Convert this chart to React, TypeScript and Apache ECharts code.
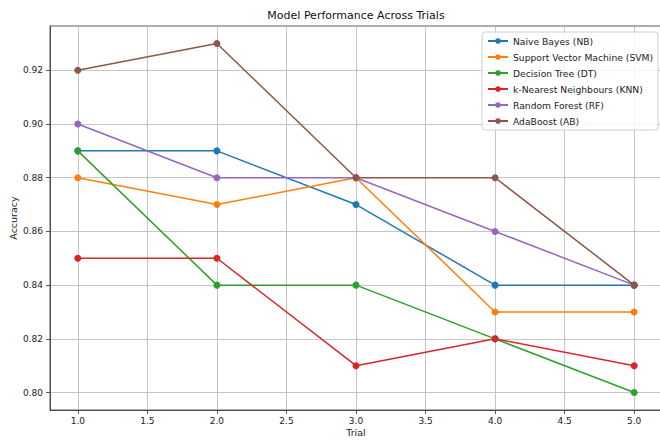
import React, { useEffect, useRef } from "react";
import * as echarts from "echarts";

const trials = [1, 2, 3, 4, 5];
const naiveBayes = [0.89, 0.89, 0.87, 0.84, 0.84];
const svm = [0.88, 0.87, 0.88, 0.83, 0.83];
const decisionTree = [0.89, 0.84, 0.84, 0.82, 0.8];
const knn = [0.85, 0.85, 0.81, 0.82, 0.81];
const randomForest = [0.9, 0.88, 0.88, 0.86, 0.84];
const adaBoost = [0.92, 0.93, 0.88, 0.88, 0.84];

const seriesNames = [
  "Naive Bayes (NB)",
  "Support Vector Machine (SVM)",
  "Decision Tree (DT)",
  "k-Nearest Neighbours (KNN)",
  "Random Forest (RF)",
  "AdaBoost (AB)",
];
const seriesValues = [naiveBayes, svm, decisionTree, knn, randomForest, adaBoost];
const colors = ["#1f77b4", "#ff7f0e", "#2ca02c", "#d62728", "#9467bd", "#8c564b"];

const xTicks = [1.0, 1.5, 2.0, 2.5, 3.0, 3.5, 4.0, 4.5, 5.0];
const yTicks = [0.8, 0.82, 0.84, 0.86, 0.88, 0.9, 0.92];

const FONT = "DejaVu Sans";

export default function App() {
  const ref = useRef<HTMLDivElement>(null);
  useEffect(() => {
    if (!ref.current) return;
    const chart = echarts.init(ref.current, null, { renderer: "svg" });
    chart.setOption({
      animation: false,
      backgroundColor: "#ffffff",
      textStyle: { fontFamily: FONT },
      graphic: [
        {
          type: "text",
          x: 356,
          y: 15,
          style: {
            text: "Model Performance Across Trials",
            textAlign: "center",
            textVerticalAlign: "middle",
            fontFamily: FONT,
            fontSize: 11,
            fill: "#111",
          },
        },
      ],
      grid: {
        left: 50,
        top: 26,
        width: 612,
        height: 384,
        outerBoundsMode: "none",
        containLabel: false,
        show: true,
        borderColor: "#333",
        borderWidth: 0.8,
        backgroundColor: "transparent",
      },
      legend: {
        left: 482,
        top: 32,
        orient: "vertical",
        padding: [3, 5, 3, 5],
        itemWidth: 20,
        itemHeight: 7,
        itemGap: 4,
        backgroundColor: "rgba(255,255,255,0.85)",
        borderColor: "#d0d0d0",
        borderWidth: 1,
        borderRadius: 3,
        textStyle: { fontFamily: FONT, fontSize: 9.2, color: "#222", lineHeight: 12 },
        data: seriesNames,
      },
      xAxis: {
        type: "value",
        min: 0.8,
        max: 5.2,
        name: "Trial",
        nameLocation: "middle",
        nameGap: 17,
        nameMoveOverlap: false,
        nameTextStyle: { fontFamily: FONT, fontSize: 9.5, color: "#222" },
        axisLine: { show: true, lineStyle: { color: "#333", width: 0.8 } },
        axisTick: {
          show: true,
          length: 4,
          customValues: xTicks,
          lineStyle: { color: "#333", width: 0.8 },
        },
        axisLabel: {
          customValues: xTicks,
          margin: 6,
          fontFamily: FONT,
          fontSize: 9,
          color: "#222",
          formatter: (v: number) => v.toFixed(1),
        },
        splitLine: { show: true, lineStyle: { color: "#b8b8b8", width: 0.8 } },
      },
      yAxis: {
        type: "value",
        min: 0.7935,
        max: 0.9365,
        name: "Accuracy",
        nameLocation: "middle",
        nameGap: 32,
        nameMoveOverlap: false,
        nameTextStyle: { fontFamily: FONT, fontSize: 9.5, color: "#222" },
        axisLine: { show: true, lineStyle: { color: "#333", width: 0.8 } },
        axisTick: {
          show: true,
          length: 4,
          customValues: yTicks,
          lineStyle: { color: "#333", width: 0.8 },
        },
        axisLabel: {
          customValues: yTicks,
          margin: 7,
          fontFamily: FONT,
          fontSize: 9,
          color: "#222",
          formatter: (v: number) => v.toFixed(2),
        },
        splitLine: { show: true, lineStyle: { color: "#b8b8b8", width: 0.8 } },
      },
      series: seriesNames.map((name, i) => ({
        name,
        type: "line",
        data: trials.map((t, j) => [t, seriesValues[i][j]]),
        color: colors[i],
        symbol: "circle",
        symbolSize: 7,
        lineStyle: { width: 1.5, color: colors[i] },
        itemStyle: { color: colors[i] },
        clip: false,
        z: 2 + i,
      })),
    });
    return () => chart.dispose();
  }, []);
  return (
    <div
      ref={ref}
      style={{ position: "fixed", left: 0, top: 0, width: 660, height: 442 }}
    />
  );
}
